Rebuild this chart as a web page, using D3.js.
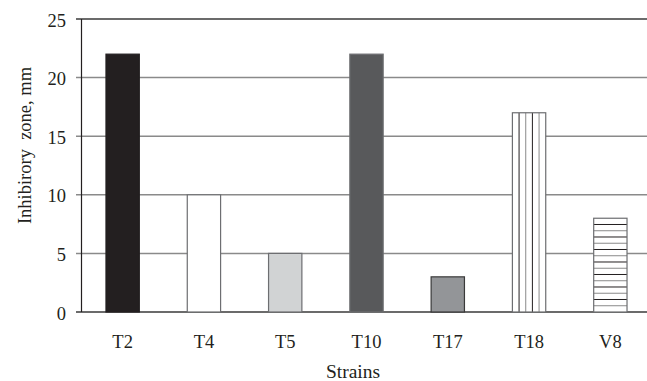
<!DOCTYPE html>
<html>
<head>
<meta charset="utf-8">
<script src="https://cdn.jsdelivr.net/npm/d3@7"></script>
<style>
html,body{margin:0;padding:0;background:#fff;}
svg{display:block;}
text{font-family:"Liberation Serif","Times New Roman",serif;fill:#231f20;}
</style>
</head>
<body>
<svg id="chart" width="647" height="381"></svg>
<script>
const categories = ["T2","T4","T5","T10","T17","T18","V8"];
const values = [22,10,5,22,3,17,8];
const fills = ["#231f20","#ffffff","#d1d3d4","#58595b","#939598","vstripe","hstripe"];
const yTicks = [0,5,10,15,20,25];
const yLabel = "Inhibirory  zone, mm";
const xLabel = "Strains";

const svg = d3.select("#chart");
const mLeft = 81.5, mRight = 651, mTop = 19, mBottom = 312;

const x = d3.scaleBand().domain(categories).range([82, mRight]).paddingInner(0.59).paddingOuter(0.295);
const y = d3.scaleLinear().domain([0,25]).range([mBottom, mTop]);

// gridlines
svg.append("g").selectAll("line").data(yTicks).join("line")
  .attr("x1", 76).attr("x2", 647)
  .attr("y1", d => y(d)).attr("y2", d => y(d))
  .attr("stroke", d => (d === 0 || d === 25) ? "#3a3a3a" : "#8a8a8a")
  .attr("stroke-width", 1.5);

// y axis line
svg.append("line").attr("x1", mLeft).attr("x2", mLeft).attr("y1", y(25)).attr("y2", y(0))
  .attr("stroke", "#231f20").attr("stroke-width", 1.2);

// tick labels
svg.append("g").selectAll("text").data(yTicks).join("text")
  .attr("x", 66).attr("y", d => y(d) + 7.5)
  .attr("text-anchor", "end").attr("font-size", 18.5)
  .text(d => d);

// bars
const bars = svg.append("g");
categories.forEach((c, i) => {
  const x0 = x(c), w = x.bandwidth(), y0 = y(values[i]), h = y(0) - y(values[i]);
  const f = fills[i];
  const g = bars.append("g");
  g.append("rect").attr("x", x0).attr("y", y0).attr("width", w).attr("height", h)
    .attr("fill", (f === "vstripe" || f === "hstripe") ? "#fff" : f);
  if (f === "vstripe") {
    d3.range(1,5).forEach(k => {
      g.append("line").attr("x1", x0 + k*w/5).attr("x2", x0 + k*w/5)
        .attr("y1", y0).attr("y2", y(0))
        .attr("stroke", k % 2 ? "#231f20" : "#8a8a8a").attr("stroke-width", 1);
    });
  }
  if (f === "hstripe") {
    const n = 15;
    d3.range(1,n).forEach(k => {
      g.append("line").attr("x1", x0).attr("x2", x0 + w)
        .attr("y1", y0 + k*h/n).attr("y2", y0 + k*h/n)
        .attr("stroke", k % 2 ? "#231f20" : "#8a8a8a").attr("stroke-width", 1);
    });
  }
  g.append("rect").attr("x", x0).attr("y", y0).attr("width", w).attr("height", h)
    .attr("fill", "none")
    .attr("stroke", f === "#231f20" ? "#231f20" : (f === "#939598" ? "#3a3a3a" : "#6d6e71"))
    .attr("stroke-width", 1.2);
});

// category labels
svg.append("g").selectAll("text").data(categories).join("text")
  .attr("x", d => x(d) + x.bandwidth()/2).attr("y", 347.5)
  .attr("text-anchor", "middle").attr("font-size", 18.5)
  .text(d => d);

// axis titles
svg.append("text").attr("x", 353).attr("y", 378)
  .attr("text-anchor", "middle").attr("font-size", 19.5).text(xLabel);

svg.append("text").attr("transform", "translate(31,145.5) rotate(-90)")
  .attr("text-anchor", "middle").attr("font-size", 18.5)
  .attr("xml:space", "preserve").style("white-space", "pre")
  .text(yLabel);
</script>
</body>
</html>
